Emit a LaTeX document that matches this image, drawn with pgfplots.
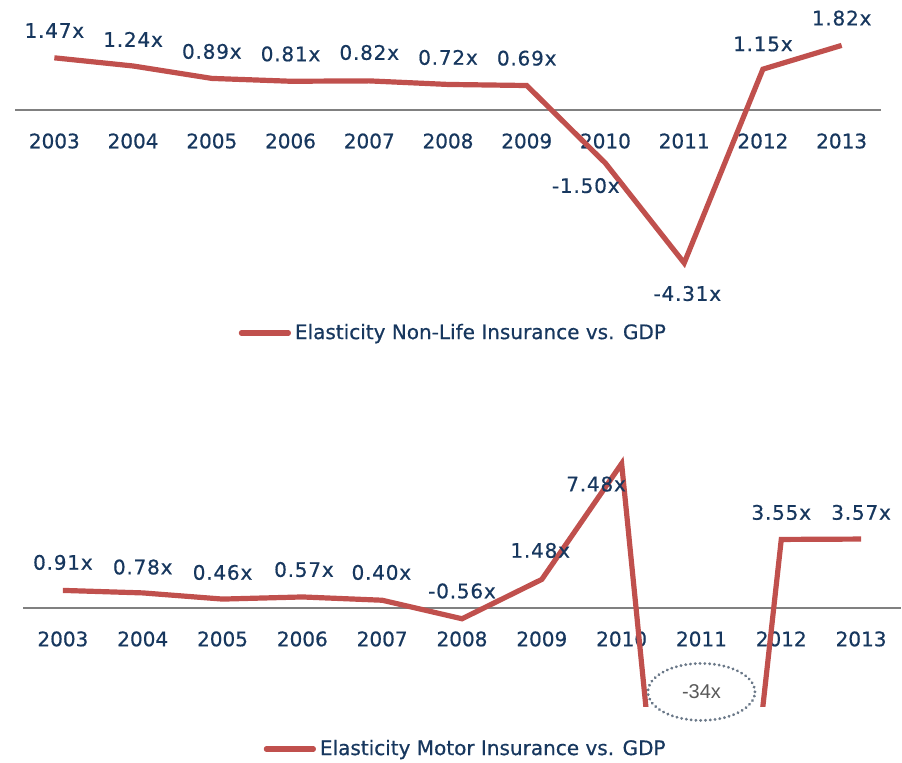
\documentclass[border=0pt]{standalone}
\usepackage{pgfplots}
\pgfplotsset{compat=1.18}
\usepackage{fontspec}
\setmainfont[FakeBold=0.6]{DejaVu Sans}
\newfontfamily\labfont[FakeBold=0.6, LetterSpace=4]{DejaVu Sans}
\newfontfamily\calloutfont{Liberation Sans}
\usetikzlibrary{shapes.geometric}
\definecolor{lineRed}{HTML}{C0504D}
\definecolor{navy}{HTML}{17375E}
\definecolor{zeroGray}{HTML}{808080}
\definecolor{dotGray}{HTML}{6A7888}
\definecolor{textGray}{HTML}{595959}
\pgfplotsset{
  elast/.style={
    scale only axis,
    axis x line=middle,
    axis y line=none,
    inner axis line style={-, draw=zeroGray, line width=1.1bp},
    axis line style={-, draw=zeroGray, line width=1.1bp},
    xmin=0.5, xmax=11.5,
    xtick={1,...,11},
    xticklabels={2003,2004,2005,2006,2007,2008,2009,2010,2011,2012,2013},
    major tick length=0pt,
    xtick style={draw=none},
    ytick=\empty,
    xticklabel style={anchor=center, yshift=-15.5bp, text=navy, inner sep=0pt},
    tick label style={font=\fontsize{10bp}{12bp}\selectfont},
    legend style={draw=none, fill=none, font=\fontsize{10bp}{12bp}\selectfont, text=navy, inner sep=0pt, outer sep=0pt, nodes={inner sep=0pt}, column sep=2bp, anchor=center},
    legend image code/.code={\draw[#1, line cap=round] (0bp,0bp) -- (23.5bp,0bp);},
    nodes near coords align={anchor=center},
    every node near coord/.append style={anchor=center, inner sep=0pt, font=\labfont\fontsize{10bp}{12bp}\selectfont, text=navy},
  },
}
\begin{document}
\begin{tikzpicture}
\path[use as bounding box] (0bp,0bp) rectangle (451bp,-381.5bp);
\begin{axis}[elast, at={(7.5bp,-134.875bp)}, anchor=south west,
  width=433bp, height=124.25bp, ymin=-4.5, ymax=2.5, clip=false,
  legend style={at={(0.505,-0.2545)}}]
\addplot[lineRed, line width=2.6bp, mark=none] coordinates {
(1,1.47) (2,1.24) (3,0.89) (4,0.81) (5,0.82) (6,0.72) (7,0.69) (8,-1.50) (9,-4.31) (10,1.15) (11,1.82)};
\addlegendentry{Elasticity Non-Life Insurance vs. GDP}
\addplot[draw=none, mark=none, forget plot, nodes near coords, point meta=explicit symbolic] table[meta=lab] {
x y lab
1 2.24 1.47x
2 1.99 1.24x
3 1.65 0.89x
4 1.58 0.81x
5 1.62 0.82x
6 1.48 0.72x
7 1.46 0.69x
7.75 -2.13 -1.50x
9.04 -5.17 -4.31x
10 1.86 1.15x
11 2.59 1.82x
};
\end{axis}
\begin{axis}[elast, at={(11.5bp,-353bp)}, anchor=south west,
  width=439bp, height=135.87bp, ymin=-5.08, ymax=9, clip mode=individual,
  legend style={at={(0.503,-0.158)}}]
\addplot[lineRed, line width=2.6bp, mark=none] coordinates {
(1,0.91) (2,0.78) (3,0.46) (4,0.57) (5,0.40) (6,-0.56) (7,1.48) (8,7.48) (9,-34) (10,3.55) (11,3.57)};
\addlegendentry{Elasticity Motor Insurance vs. GDP}
\addplot[draw=none, mark=none, forget plot, nodes near coords, point meta=explicit symbolic] table[meta=lab] {
x y lab
1 2.36 0.91x
2 2.12 0.78x
3 1.84 0.46x
4.02 1.99 0.57x
4.99 1.84 0.40x
6 0.88 -0.56x
6.98 2.98 1.48x
7.68 6.42 7.48x
10 4.95 3.55x
11 4.95 3.57x
};
\node[ellipse, draw=dotGray, line width=1.5bp, line cap=round, dash pattern=on 0.1bp off 2.3bp,
  minimum width=53.5bp, minimum height=28.5bp, inner sep=0pt, text=textGray,
  font=\calloutfont\fontsize{10bp}{12bp}\selectfont] at (axis cs:9,-4.35) {-34x};
\end{axis}
\end{tikzpicture}
\end{document}
